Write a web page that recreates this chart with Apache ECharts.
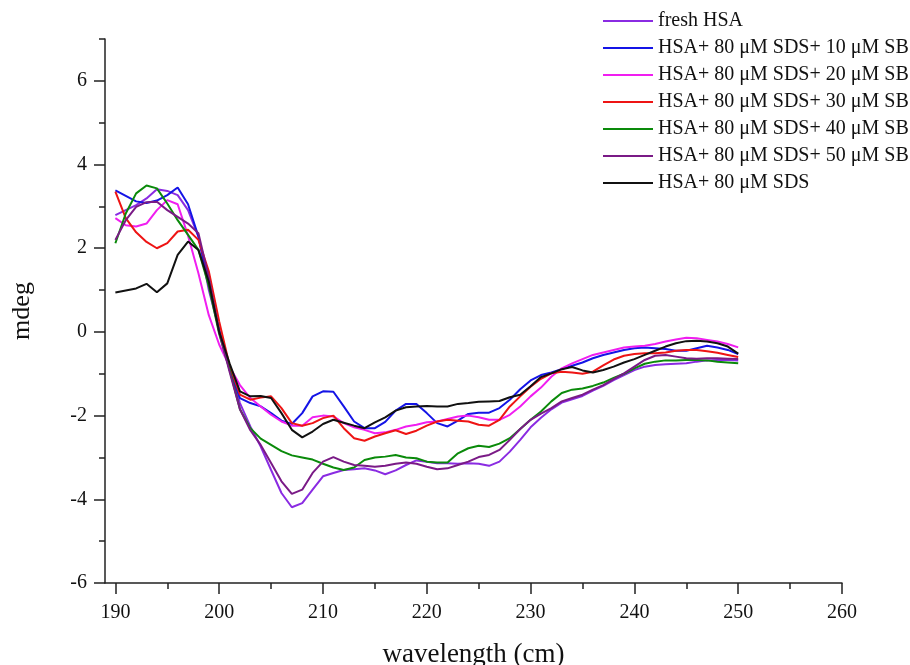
<!DOCTYPE html>
<html>
<head>
<meta charset="utf-8">
<script src="https://cdn.jsdelivr.net/npm/echarts@6/dist/echarts.min.js"></script>
<style>
  html, body { margin: 0; padding: 0; background: #fff; }
  #chart { width: 910px; height: 665px; }
</style>
</head>
<body>
<div id="chart"></div>
<script>
const wavelengths = [190, 191, 192, 193, 194, 195, 196, 197, 198, 199,
  200, 201, 202, 203, 204, 205, 206, 207, 208, 209,
  210, 211, 212, 213, 214, 215, 216, 217, 218, 219,
  220, 221, 222, 223, 224, 225, 226, 227, 228, 229,
  230, 231, 232, 233, 234, 235, 236, 237, 238, 239,
  240, 241, 242, 243, 244, 245, 246, 247, 248, 249, 250];

const freshHSA = [2.79, 2.91, 3.03, 3.19, 3.41, 3.37, 3.27, 2.91, 2.28, 1.0,
  0.05, -0.85, -1.7, -2.26, -2.74, -3.3, -3.85, -4.19, -4.09, -3.77,
  -3.45, -3.37, -3.3, -3.28, -3.26, -3.31, -3.4, -3.31, -3.18, -3.07,
  -3.1, -3.14, -3.14, -3.15, -3.14, -3.15, -3.2, -3.1, -2.86, -2.58,
  -2.28, -2.05, -1.85, -1.69, -1.61, -1.53, -1.4, -1.29, -1.15, -1.03,
  -0.91, -0.83, -0.79, -0.77, -0.76, -0.75, -0.71, -0.68, -0.67, -0.67, -0.68];

const sb10 = [3.38, 3.25, 3.12, 3.08, 3.14, 3.27, 3.45, 3.05, 2.28, 1.15,
  0.05, -0.9, -1.58, -1.7, -1.78, -1.94, -2.12, -2.2, -1.94, -1.54,
  -1.42, -1.43, -1.78, -2.14, -2.3, -2.3, -2.15, -1.88, -1.72, -1.72,
  -1.94, -2.18, -2.26, -2.12, -1.96, -1.93, -1.93, -1.82, -1.62, -1.37,
  -1.16, -1.03, -0.97, -0.89, -0.81, -0.73, -0.63, -0.55, -0.49, -0.43,
  -0.39, -0.37, -0.39, -0.41, -0.45, -0.45, -0.39, -0.33, -0.37, -0.43, -0.53];

const sb20 = [2.72, 2.55, 2.52, 2.59, 2.91, 3.15, 3.05, 2.3, 1.4, 0.4,
  -0.3, -0.83, -1.27, -1.58, -1.78, -1.98, -2.14, -2.24, -2.24, -2.04,
  -2.0, -2.02, -2.18, -2.28, -2.34, -2.42, -2.4, -2.34, -2.26, -2.22,
  -2.16, -2.14, -2.08, -2.02, -2.0, -2.04, -2.1, -2.1, -1.98, -1.78,
  -1.54, -1.33, -1.07, -0.87, -0.75, -0.65, -0.55, -0.49, -0.43, -0.37,
  -0.35, -0.33, -0.29, -0.23, -0.18, -0.14, -0.15, -0.19, -0.23, -0.29, -0.37];

const sb30 = [3.35, 2.72, 2.38, 2.15, 2.0, 2.12, 2.4, 2.44, 2.2, 1.45,
  0.25, -0.8, -1.5, -1.62, -1.57, -1.54, -1.82, -2.18, -2.24, -2.18,
  -2.06, -2.0, -2.3, -2.54, -2.6, -2.5, -2.42, -2.35, -2.44, -2.36,
  -2.24, -2.14, -2.1, -2.12, -2.14, -2.22, -2.24, -2.1, -1.78, -1.54,
  -1.31, -1.12, -0.99, -0.95, -0.97, -1.0, -0.95, -0.8, -0.66, -0.57,
  -0.53, -0.51, -0.51, -0.49, -0.45, -0.43, -0.43, -0.46, -0.5, -0.55, -0.6];

const sb40 = [2.12, 2.83, 3.31, 3.5, 3.43, 3.07, 2.67, 2.32, 1.96, 1.1,
  -0.05, -0.9, -1.85, -2.3, -2.55, -2.7, -2.85, -2.95, -3.0, -3.05,
  -3.15, -3.24, -3.3, -3.24, -3.06, -3.0, -2.98, -2.94, -3.0, -3.02,
  -3.1, -3.12, -3.12, -2.9, -2.78, -2.72, -2.75, -2.67, -2.54, -2.32,
  -2.1, -1.9, -1.66, -1.46, -1.38, -1.35, -1.29, -1.21, -1.1, -1.0,
  -0.87, -0.76, -0.71, -0.68, -0.68, -0.67, -0.67, -0.68, -0.71, -0.73, -0.75];

const sb50 = [2.2, 2.67, 2.99, 3.1, 3.11, 2.91, 2.75, 2.59, 2.36, 1.3,
  0.0, -0.95, -1.85, -2.35, -2.7, -3.13, -3.57, -3.87, -3.77, -3.37,
  -3.1, -2.99, -3.1, -3.18, -3.2, -3.22, -3.2, -3.15, -3.12, -3.15,
  -3.22, -3.28, -3.26, -3.18, -3.1, -2.99, -2.94, -2.82, -2.58, -2.32,
  -2.1, -1.95, -1.82, -1.66, -1.58, -1.5, -1.38, -1.27, -1.13, -0.99,
  -0.83, -0.67, -0.57, -0.55, -0.59, -0.63, -0.64, -0.63, -0.63, -0.64, -0.65];

const sdsOnly = [0.94, 0.99, 1.04, 1.15, 0.95, 1.16, 1.84, 2.16, 1.96, 1.2,
  0.0, -0.75, -1.42, -1.54, -1.53, -1.58, -1.94, -2.34, -2.52, -2.38,
  -2.2, -2.1, -2.17, -2.24, -2.3, -2.16, -2.04, -1.88, -1.8, -1.78,
  -1.77, -1.78, -1.78, -1.72, -1.7, -1.67, -1.66, -1.65, -1.56, -1.5,
  -1.3, -1.08, -0.99, -0.89, -0.84, -0.92, -0.97, -0.91, -0.83, -0.73,
  -0.65, -0.55, -0.45, -0.35, -0.27, -0.22, -0.21, -0.23, -0.27, -0.35, -0.52];

const seriesNames = [
  "fresh HSA",
  "HSA+ 80 μM SDS+ 10 μM SB",
  "HSA+ 80 μM SDS+ 20 μM SB",
  "HSA+ 80 μM SDS+ 30 μM SB",
  "HSA+ 80 μM SDS+ 40 μM SB",
  "HSA+ 80 μM SDS+ 50 μM SB",
  "HSA+ 80 μM SDS"
];
const seriesValues = [freshHSA, sb10, sb20, sb30, sb40, sb50, sdsOnly];
const colors = ["#8a2be2", "#1414e6", "#f01ef0", "#ee1414", "#0a8a0a", "#7a1a86", "#111111"];

const xTickLabels = [190, 200, 210, 220, 230, 240, 250, 260];
const xMinorTicks = [195, 205, 215, 225, 235, 245, 255];
const yTickLabels = [-6, -4, -2, 0, 2, 4, 6];
const yMinorTicks = [-5, -3, -1, 1, 3, 5, 7];

const font = "Liberation Serif";
const axisColor = "#222";

const chart = echarts.init(document.getElementById("chart"));

const options = {
  animation: false,
  color: colors,
  grid: { left: 105, right: 68, top: 39, bottom: 82, outerBoundsMode: "none" },
  legend: {
    orient: "vertical",
    left: 598,
    top: 6,
    icon: "rect",
    itemWidth: 50,
    itemHeight: 2,
    itemGap: 7,
    textStyle: { fontFamily: font, fontSize: 20, color: "#111" },
    data: seriesNames,
  },
  xAxis: [
    {
      type: "value",
      min: 189,
      max: 260,
      name: "wavelength (cm)",
      nameLocation: "middle",
      nameGap: 58,
      nameTextStyle: { fontFamily: font, fontSize: 27, color: "#111" },
      axisLine: { show: true, onZero: false, lineStyle: { color: axisColor, width: 1.5 } },
      axisTick: { show: true, customValues: xTickLabels, length: 11, lineStyle: { color: axisColor, width: 1.5 } },
      axisLabel: { customValues: xTickLabels, margin: 20, fontFamily: font, fontSize: 20, color: "#111" },
      splitLine: { show: false },
    },
    {
      type: "value",
      min: 189,
      max: 260,
      position: "bottom",
      axisLine: { show: false, onZero: false },
      axisTick: { show: true, customValues: xMinorTicks, length: 6, lineStyle: { color: axisColor, width: 1.5 } },
      axisLabel: { show: false },
      splitLine: { show: false },
    },
  ],
  yAxis: [
    {
      type: "value",
      min: -6,
      max: 7,
      name: "mdeg",
      nameLocation: "middle",
      nameGap: 70,
      nameTextStyle: { fontFamily: font, fontSize: 26, color: "#111" },
      axisLine: { show: true, onZero: false, lineStyle: { color: axisColor, width: 1.5 } },
      axisTick: { show: true, customValues: yTickLabels, length: 11, lineStyle: { color: axisColor, width: 1.5 } },
      axisLabel: { customValues: yTickLabels, margin: 18, fontFamily: font, fontSize: 20, color: "#111" },
      splitLine: { show: false },
    },
    {
      type: "value",
      min: -6,
      max: 7,
      position: "left",
      axisLine: { show: false, onZero: false },
      axisTick: { show: true, customValues: yMinorTicks, length: 6, lineStyle: { color: axisColor, width: 1.5 } },
      axisLabel: { show: false },
      splitLine: { show: false },
    },
  ],
  series: seriesNames.map((name, i) => ({
    name: name,
    type: "line",
    xAxisIndex: 0,
    yAxisIndex: 0,
    showSymbol: false,
    symbol: "none",
    lineStyle: { width: 2, color: colors[i] },
    data: wavelengths.map((w, j) => [w, seriesValues[i][j]]),
  })),
};

chart.setOption(options);
</script>
</body>
</html>
